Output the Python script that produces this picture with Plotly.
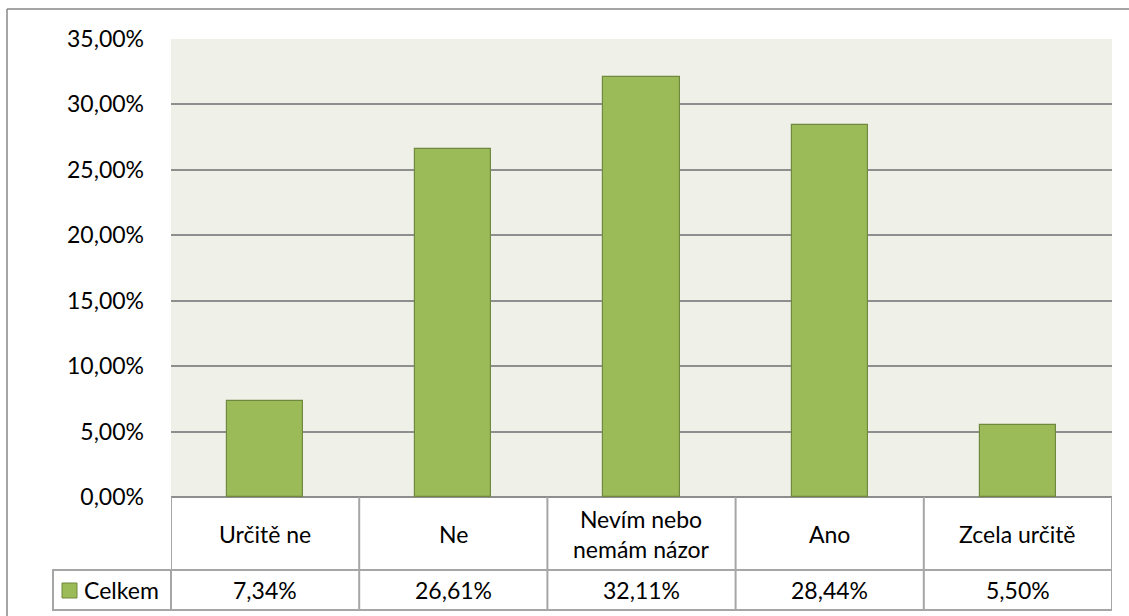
import plotly.graph_objects as go

# data
categories = ["Určitě ne", "Ne", "Nevím nebo<br>nemám názor", "Ano", "Zcela určitě"]
values = [0.0734, 0.2661, 0.3211, 0.2844, 0.0550]
series_name = "Celkem"
y_ticks = [0, 0.05, 0.10, 0.15, 0.20, 0.25, 0.30, 0.35]

W, H = 1129, 616
FONT = "Lato"
FS = 23
GRID = "#8e8e8e"
BORDER = "#a6a6a6"


def px(x):
    return x / W


def py(y):
    return 1 - y / H


# plot area in pixels
L, R, T, B = 171, 1112, 39, 497
ROW1, ROW2 = 570, 610
LEG_L = 53

fig = go.Figure()
fig.add_trace(go.Bar(
    x=list(range(len(categories))),
    y=values,
    width=0.404,
    marker=dict(color="#9bbb59", line=dict(color="#71893f", width=1.2)),
    name=series_name,
    showlegend=False,
))

shapes = []
# outer chart border (cropped on right/bottom)
shapes.append(dict(type="line", xref="paper", yref="paper", x0=px(7), x1=1.05, y0=py(9), y1=py(9),
                   line=dict(color="#878787", width=1.5)))
shapes.append(dict(type="line", xref="paper", yref="paper", x0=px(7), x1=px(7), y0=py(9), y1=-0.05,
                   line=dict(color="#878787", width=1.5)))

# data table grid
for i in range(len(categories) + 1):
    shapes.append(dict(type="line", xref="x", yref="paper", x0=i - 0.5, x1=i - 0.5,
                       y0=py(B), y1=py(ROW2), line=dict(color=BORDER, width=2)))
for yy in (ROW1, ROW2):
    shapes.append(dict(type="line", xref="x", yref="paper", x0=-0.5, x1=len(categories) - 0.5,
                       y0=py(yy), y1=py(yy), line=dict(color=BORDER, width=2)))
# legend cell
shapes.append(dict(type="rect", xref="paper", yref="paper", x0=px(LEG_L), x1=px(L),
                   y0=py(ROW2), y1=py(ROW1), line=dict(color=BORDER, width=2)))
# legend key
shapes.append(dict(type="rect", xref="paper", yref="paper", x0=px(62), x1=px(77),
                   y0=py(598), y1=py(583), fillcolor="#9bbb59",
                   line=dict(color="#71893f", width=1)))

font = dict(family=FONT, size=FS, color="#000")
annotations = []
for i, (c, v) in enumerate(zip(categories, values)):
    annotations.append(dict(x=i, y=py((B + ROW1) / 2), xref="x", yref="paper", text=c,
                            xanchor="center", yanchor="middle", showarrow=False, font=font))
    annotations.append(dict(x=i, y=py((ROW1 + ROW2) / 2), xref="x", yref="paper",
                            text=f"{v * 100:.2f}%".replace(".", ","),
                            xanchor="center", yanchor="middle", showarrow=False, font=font))
annotations.append(dict(x=px(82), y=py((ROW1 + ROW2) / 2), xref="paper", yref="paper",
                        text=series_name, xanchor="left", yanchor="middle",
                        showarrow=False, font=font))

fig.update_layout(
    width=W, height=H,
    margin=dict(l=0, r=0, t=0, b=0, pad=0),
    paper_bgcolor="white",
    plot_bgcolor="#eff1e9",
    separators=", ",
    xaxis=dict(domain=[px(L), px(R)], range=[-0.5, 4.5], showticklabels=False,
               showgrid=False, zeroline=False, fixedrange=True, automargin=False),
    yaxis=dict(domain=[py(B), py(T)], range=[0, 0.35], tickvals=y_ticks, tickformat=".2%",
               showgrid=True, gridcolor=GRID, gridwidth=2, zeroline=True,
               zerolinecolor=GRID, zerolinewidth=2, ticklabelstandoff=26, automargin=False,
               fixedrange=True, tickfont=font),
    shapes=shapes,
    annotations=annotations,
    bargap=0,
)

fig.write_html("out.html", config={"displayModeBar": False},
               post_script="document.body.style.margin = '0';")
